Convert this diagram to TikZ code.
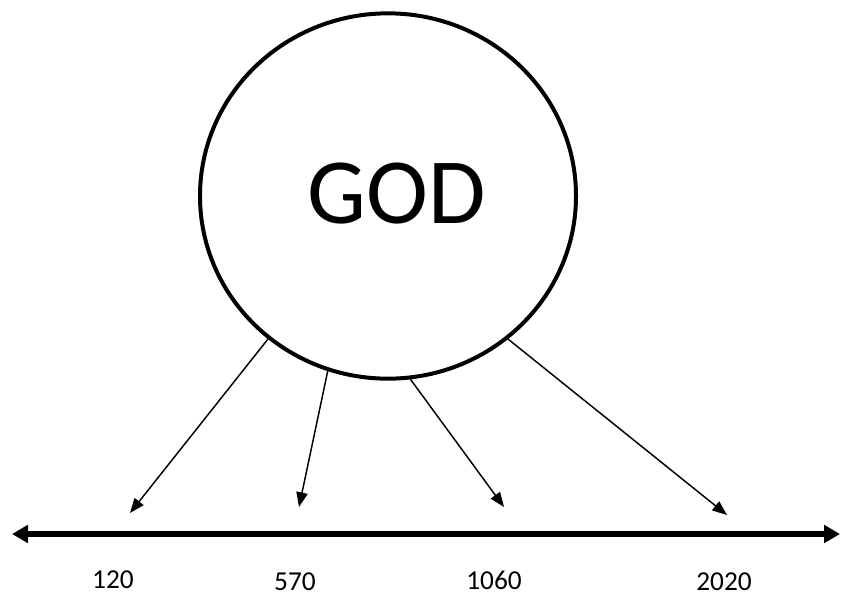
\documentclass[tikz,border=0pt]{standalone}
\usepackage{fontspec}
\setmainfont{Carlito}
\usetikzlibrary{arrows.meta,shapes.geometric}

\begin{document}
\begin{tikzpicture}[x=0.75pt, y=-0.75pt, line cap=round, line join=round,
  ray/.style={-{Triangle[length=11pt,width=8.5pt]}, line width=1.1pt},
  year/.style={font=\fontsize{20.5}{24}\selectfont, inner sep=0pt}]
\useasboundingbox (0,0) rectangle (841,597);

\node[ellipse, draw, line width=3pt, minimum width=282pt, minimum height=274pt,
  inner sep=0pt] (god) at (388,196) {};
\node[font=\fontsize{70}{84}\selectfont, inner sep=0pt] (god-name) at (397,194) {GOD};

\coordinate (tl-left) at (12,534);
\coordinate (tl-right) at (840,534);
\draw[{Triangle[length=12pt,width=13pt]}-{Triangle[length=12pt,width=13pt]}, line width=4.5pt, line cap=butt]
  (tl-left) -- (tl-right);

\coordinate (hit-a) at (130,513);
\coordinate (hit-b) at (299,507);
\coordinate (hit-c) at (504,507);
\coordinate (hit-d) at (727,515);
\draw[ray] (god.230) -- (hit-a);
\draw[ray] (god.251) -- (hit-b);
\draw[ray] (god.277) -- (hit-c);
\draw[ray] (god.310) -- (hit-d);

\node[year] (y120) at (113,580) {120};
\node[year] (y570) at (295,582) {570};
\node[year] (y1060) at (494,580) {1060};
\node[year] (y2020) at (724,582) {2020};
\end{tikzpicture}
\end{document}
